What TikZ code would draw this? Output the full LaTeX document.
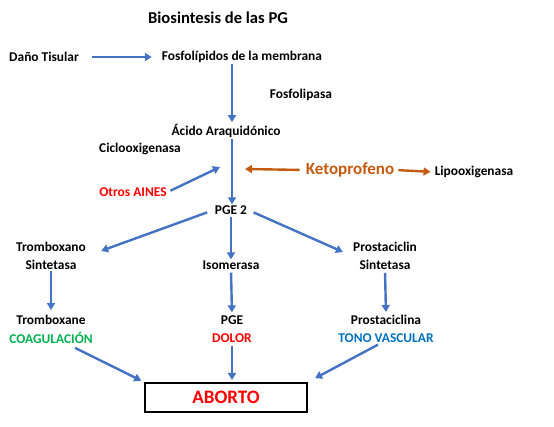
\documentclass[tikz,border=0pt]{standalone}
\usepackage{fontspec}
\setmainfont{Carlito}
\usetikzlibrary{arrows.meta,calc}
\definecolor{pgblue}{HTML}{4472C4}
\definecolor{pgorange}{HTML}{C55A11}
\definecolor{pgred}{HTML}{FF0000}
\definecolor{pggreen}{HTML}{00B050}
\definecolor{pgsky}{HTML}{0070C0}
\tikzset{
  lb/.style={font=\fontsize{13.4}{18}\selectfont\bfseries, inner sep=1pt, align=center},
  arr/.style={-{Triangle[length=7pt,width=8pt]}, line width=2.4pt, color=pgblue},
  oarr/.style={arr, color=pgorange},
  res/.style={draw=black, line width=2pt, minimum width=162pt, minimum height=29pt, inner sep=0pt,
    font=\fontsize{19}{22}\selectfont\bfseries, text=pgred},
}
\begin{document}
\begin{tikzpicture}[x=1pt, y=-1pt]
    \useasboundingbox (0,0) rectangle (554,427);
    \node[lb, font=\fontsize{16.6}{18}\selectfont\bfseries] (tit) at (218,18) {Biosintesis de las PG};
    \node[lb] (dano) at (44,57) {Daño Tisular};
    \node[lb] (fosfo) at (242,57) {Fosfolípidos de la membrana};
    \node[lb] (fpasa) at (301,95) {Fosfolipasa};
    \node[lb] (acido) at (226,131) {Ácido Araquidónico};
    \node[lb] (ciclo) at (140,149) {Ciclooxigenasa};
    \node[lb, text=pgred] (otros) at (133,192) {Otros AINES};
    \node[lb, font=\fontsize{17}{20}\selectfont\bfseries, text=pgorange] (keto) at (350,170) {Ketoprofeno};
    \node[lb] (lipo) at (474,172) {Lipooxigenasa};
    \node[lb] (pge2) at (231,210) {PGE 2};
    \node[lb] (trom) at (51,256) {Tromboxano\\Sintetasa};
    \node[lb] (iso) at (231,265) {Isomerasa};
    \node[lb] (prost) at (385,256) {Prostaciclin\\Sintetasa};
    \node[lb] (tbx) at (51,320) {Tromboxane};
    \node[lb, text=pggreen] (coag) at (51,338) {COAGULACIÓN};
    \node[lb] (pge) at (232,320) {PGE};
    \node[lb, text=pgred] (dolor) at (232,338) {DOLOR};
    \node[lb] (prosta) at (386,320) {Prostaciclina};
    \node[lb, text=pgsky] (tono) at (386,338) {TONO VASCULAR};
    \node[res] (abort) at (226,397.5) {ABORTO};
    \coordinate (axis) at (232,0);
    \coordinate (cox) at (220,167);
    \coordinate (kin) at (245,169);
    \draw[arr, shorten <=12pt, shorten >=9pt] (dano.east) -- (fosfo.west);
    \draw[arr, shorten >=1pt] (fosfo.south -| axis) -- (acido.north -| axis);
    \draw[arr] (acido.south -| axis) -- (pge2.north -| axis);
    \draw[arr, shorten <=3pt] (otros.east) -- (cox);
    \draw[oarr, shorten <=5pt] (keto.west) -- (kin);
    \draw[oarr, shorten <=3pt, shorten >=3pt] (keto.east) -- (lipo.west);
    \draw[arr, shorten <=7pt, shorten >=15pt] (pge2.west) -- (trom.east);
    \draw[arr, shorten <=1pt] (pge2.south) -- (iso.north);
    \draw[arr, shorten <=6pt, shorten >=10pt] (pge2.east) -- (prost.west);
    \draw[arr, shorten >=4pt] (trom.south) -- (tbx.north);
    \draw[arr, shorten <=2pt, shorten >=2pt] (iso.south) -- (pge.north);
    \draw[arr, shorten <=2pt, shorten >=2pt] (prost.south) -- (prosta.north);
    \draw[arr, shorten >=3pt] ($(coag.south)+(24,3)$) -- (abort.north west);
    \draw[arr, shorten <=2pt, shorten >=2pt] (dolor.south -| axis) -- (abort.north -| axis);
    \draw[arr, shorten >=8pt] ($(tono.south)+(-8,1)$) -- (abort.north east);
\end{tikzpicture}
\end{document}
